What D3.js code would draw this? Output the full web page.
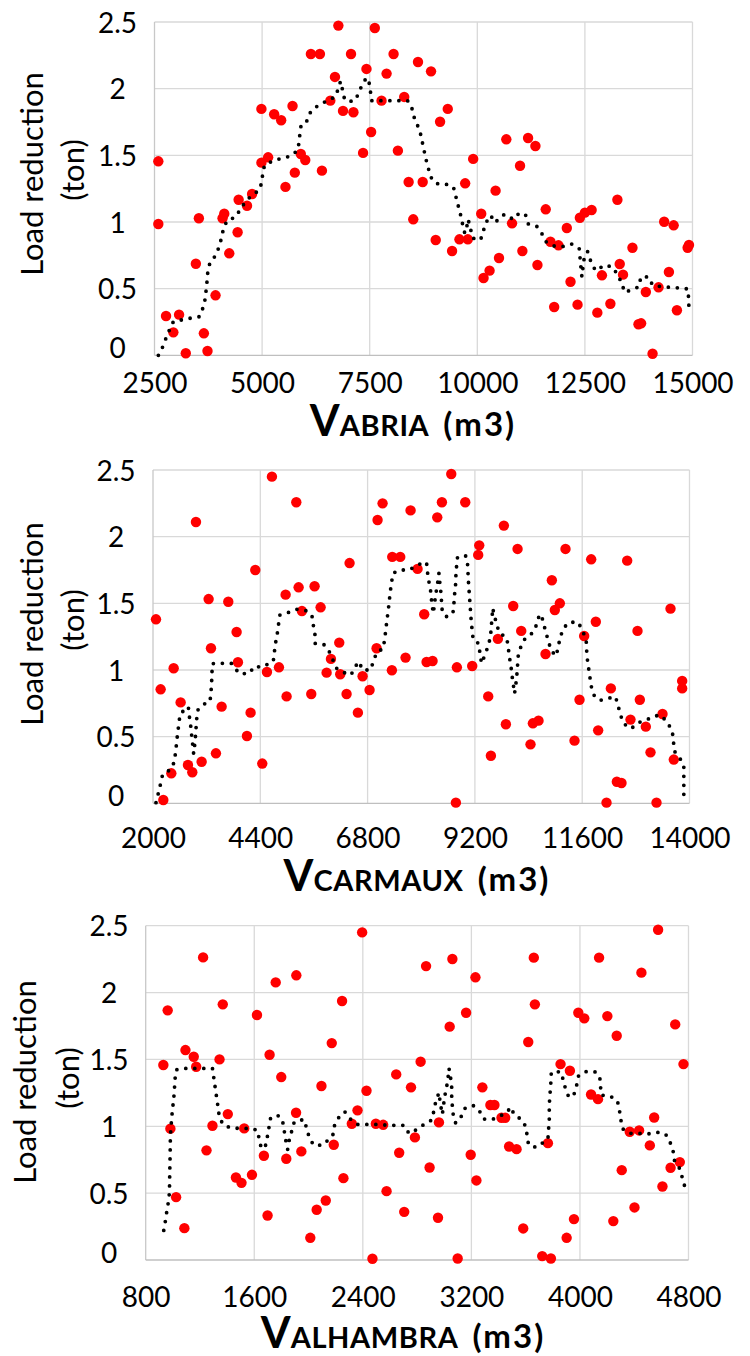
<!DOCTYPE html>
<html><head><meta charset="utf-8">
<script src="https://cdn.jsdelivr.net/npm/d3@7"></script>
<style>body{margin:0;background:#fff}svg{display:block}</style>
</head><body>
<svg id="chart" width="750" height="1356"></svg>
<script>
// ---------- DATA ----------
const yTicks = [0, 0.5, 1, 1.5, 2, 2.5];

// Panel 1 : V ABRIA
const abriaTicks = [2500, 5000, 7500, 10000, 12500, 15000];
const abriaX = [2589,2589,2768,2938,3071,3227,3531,3461,3647,3731,3918,4081,4121,4237,4431,4455,4650,4767,4984,4984,5140,5280,5443,5543,5707,5760,5900,6003,6134,6343,6390,6585,6693,6772,6880,7066,7122,7346,7425,7533,7619,7775,7892,8055,8155,8302,8405,8512,8622,8731,8925,9034,9135,9314,9414,9585,9718,9780,9904,10091,10145,10285,10425,10504,10674,10807,10993,11047,11180,11350,11397,11590,11700,11786,11886,12080,12166,12329,12383,12500,12656,12789,12896,13092,13255,13309,13386,13605,13745,13806,13916,14072,14211,14342,14452,14562,14638,14887,14918];
const abriaY = [1.455,0.985,0.295,0.172,0.305,0.015,1.028,0.687,0.165,0.032,0.45,1.028,1.062,0.765,0.923,1.167,1.122,1.21,1.848,1.445,1.485,1.808,1.763,1.263,1.87,1.37,1.51,1.465,2.26,2.26,1.385,1.91,2.088,2.473,1.833,2.26,1.823,1.518,2.148,1.675,2.455,1.91,2.113,2.26,1.535,1.938,1.3,1.02,2.2,1.3,2.13,0.865,1.752,1.848,0.782,0.87,1.29,0.87,1.473,1.062,0.58,0.635,1.235,0.73,1.62,0.99,1.422,0.782,1.63,1.57,0.677,1.095,0.852,0.362,0.825,0.955,0.552,0.38,1.032,1.07,1.09,0.32,0.6,0.387,1.167,0.685,0.605,0.807,0.233,0.24,0.475,0.012,0.51,1.002,0.625,0.975,0.338,0.807,0.827];
const abriaTrendX = [2590,2683,2760,2846,2939,3328,3546,3623,3678,3724,3740,3794,3934,4004,4066,4105,4199,4377,4486,4587,4727,4937,4999,5015,5061,5263,5465,5668,5831,5854,5878,5909,6049,6126,6266,6414,6577,6725,6779,6826,6872,6919,7113,7230,7308,7424,7486,7518,7541,7953,8380,8474,8520,8598,8668,8715,8761,8808,8862,8924,9041,9258,9445,9499,9554,9608,9655,9709,9748,9787,9841,9896,10075,10137,10191,10308,10417,10494,10634,10836,10984,11124,11186,11380,11505,11606,11785,11971,12189,12368,12406,12430,12476,12562,12647,12748,12966,13153,13262,13363,13417,13580,13759,13798,13977,14070,14272,14692,14894,14909,14917];
const abriaTrendY = [0.0,0.058,0.123,0.19,0.253,0.278,0.29,0.353,0.423,0.565,0.635,0.7,0.753,0.82,0.89,0.958,1.015,1.035,1.09,1.14,1.19,1.24,1.305,1.375,1.428,1.46,1.478,1.495,1.54,1.59,1.66,1.733,1.76,1.825,1.865,1.895,1.915,1.95,2.02,2.055,1.985,1.915,1.903,1.953,2.018,2.083,2.045,1.978,1.91,1.91,1.91,1.863,1.795,1.735,1.68,1.61,1.54,1.47,1.403,1.335,1.288,1.285,1.263,1.195,1.125,1.058,0.988,0.915,0.95,1.02,0.95,0.878,0.865,0.928,0.99,1.05,0.995,1.023,1.058,1.02,1.07,1.05,0.985,0.968,0.91,0.848,0.82,0.815,0.835,0.8,0.665,0.59,0.715,0.778,0.695,0.635,0.678,0.66,0.6,0.54,0.473,0.49,0.515,0.588,0.588,0.528,0.515,0.505,0.498,0.428,0.358];

// Panel 2 : V CARMAUX
const carmauxTicks = [2000, 4400, 6800, 9200, 11600, 14000];
const carmauxX = [2067,2171,2231,2410,2462,2618,2782,2879,2961,3088,3244,3297,3408,3535,3684,3870,3900,4101,4183,4288,4444,4549,4660,4817,4966,4988,5205,5257,5331,5540,5614,5749,5883,5980,6166,6188,6330,6397,6583,6688,6844,7001,7023,7135,7343,7351,7530,7649,7761,7917,8066,8119,8253,8358,8462,8671,8775,8797,8984,9140,9274,9297,9498,9558,9714,9848,9893,10057,10154,10236,10444,10497,10623,10780,10921,10988,11100,11227,11428,11540,11644,11801,11905,11957,12144,12241,12375,12479,12606,12680,12837,12889,13023,13128,13262,13396,13575,13649,13836,13836];
const carmauxY = [1.38,0.855,0.025,0.225,1.013,0.757,0.287,0.233,2.11,0.312,1.532,1.163,0.375,0.725,1.512,1.285,1.058,0.505,0.68,1.75,0.298,0.985,2.45,1.02,1.565,0.802,2.258,1.62,1.442,0.82,1.628,1.47,0.98,1.083,1.205,0.968,0.82,1.802,0.68,0.953,0.85,1.163,2.125,2.25,0.998,1.848,1.848,1.093,2.197,1.758,1.418,1.06,1.067,2.145,2.258,2.47,0.005,1.02,2.258,1.03,1.863,1.935,0.802,0.357,1.233,2.083,0.593,1.48,1.908,1.293,0.442,0.6,0.62,1.12,1.673,1.45,1.5,1.908,0.47,0.777,1.255,1.83,1.362,0.547,0.005,0.862,0.162,0.152,1.82,0.628,1.293,0.777,0.575,0.382,0.005,0.67,1.46,0.328,0.918,0.862];
const carmauxTrendX = [2067,2119,2171,2216,2402,2477,2506,2529,2551,2581,2603,2790,2812,2842,2864,2887,2909,2924,2946,2961,2976,2998,3125,3274,3297,3311,3319,3326,3535,3751,3930,4146,4280,4414,4690,4713,4742,4780,4809,4839,5018,5212,5421,5555,5585,5622,5629,5823,5935,6106,6255,6427,6524,6606,6688,6866,6933,7008,7150,7180,7209,7232,7261,7284,7306,7336,7366,7515,7724,7887,8051,8119,8141,8171,8209,8231,8268,8298,8320,8358,8395,8417,8440,8454,8469,8559,8708,8730,8745,8767,8775,8790,8812,8999,9036,9058,9073,9088,9103,9118,9140,9162,9289,9312,9349,9431,9498,9550,9565,9587,9595,9640,9684,9759,9908,9945,9967,10005,10027,10057,10087,10117,10139,10154,10169,10228,10325,10489,10571,10631,10683,10735,10787,10847,10906,11018,11063,11108,11175,11302,11510,11600,11689,11697,11711,11741,11771,11801,11861,11995,12173,12345,12405,12457,12539,12695,12852,13038,13210,13366,13530,13619,13642,13664,13783,13873,13873,13873,13873,13873];
const carmauxTrendY = [0.005,0.075,0.148,0.218,0.255,0.312,0.385,0.455,0.528,0.598,0.67,0.725,0.655,0.585,0.512,0.442,0.372,0.41,0.483,0.555,0.628,0.698,0.742,0.762,0.832,0.905,0.975,1.048,1.05,1.05,0.973,0.973,1.03,1.02,1.063,1.13,1.203,1.273,1.345,1.412,1.43,1.455,1.445,1.408,1.338,1.268,1.198,1.19,1.143,1.013,0.983,0.962,1.025,1.063,1.0,1.0,1.068,1.135,1.16,1.23,1.303,1.375,1.442,1.515,1.585,1.655,1.725,1.75,1.75,1.78,1.81,1.805,1.73,1.663,1.593,1.52,1.425,1.493,1.563,1.63,1.725,1.65,1.58,1.513,1.443,1.4,1.423,1.495,1.565,1.635,1.708,1.778,1.848,1.855,1.793,1.65,1.58,1.508,1.438,1.365,1.295,1.225,1.198,1.125,1.05,1.118,1.183,1.25,1.323,1.4,1.465,1.408,1.34,1.275,1.245,1.175,1.105,1.035,0.965,0.895,0.823,0.895,0.965,1.035,1.105,1.175,1.238,1.278,1.333,1.4,1.418,1.35,1.283,1.213,1.145,1.105,1.175,1.243,1.31,1.358,1.358,1.3,1.23,1.16,1.09,1.02,0.95,0.88,0.812,0.772,0.787,0.8,0.73,0.66,0.595,0.56,0.605,0.625,0.655,0.66,0.595,0.53,0.46,0.39,0.34,0.28,0.208,0.138,0.068,0.0];

// Panel 3 : V ALHAMBRA
const alhambraTicks = [800, 1600, 2400, 3200, 4000, 4800];
const alhambraX = [930,962,982,1024,1085,1093,1154,1172,1223,1248,1292,1344,1368,1405,1465,1506,1526,1583,1620,1671,1698,1713,1758,1799,1836,1908,1910,1947,2013,2060,2095,2127,2171,2186,2247,2257,2319,2361,2395,2427,2471,2496,2550,2575,2646,2668,2705,2755,2784,2826,2866,2892,2954,2961,3040,3060,3099,3161,3195,3230,3237,3281,3340,3370,3422,3449,3478,3533,3582,3619,3660,3668,3722,3764,3786,3857,3902,3926,3956,3988,4032,4082,4133,4141,4202,4246,4271,4308,4367,4402,4436,4453,4515,4547,4576,4608,4668,4702,4736,4763];
const alhambraY = [1.458,1.867,0.982,0.47,0.238,1.57,1.52,1.445,2.263,0.82,1.004,1.5,1.912,1.091,0.617,0.577,0.984,0.637,1.832,0.78,0.333,1.535,2.076,1.368,0.757,1.101,2.129,0.812,0.166,0.376,1.301,0.445,1.622,0.862,1.937,0.612,1.019,1.119,2.45,1.266,0.009,1.019,1.011,0.515,1.388,0.802,0.36,1.291,0.917,1.483,2.198,0.692,0.316,1.029,1.745,2.251,0.011,1.849,0.787,2.114,0.595,1.291,1.159,1.159,1.064,1.064,0.849,0.829,0.236,1.63,2.261,1.912,0.029,0.874,0.011,1.465,0.166,1.415,0.306,1.849,1.807,1.238,1.203,2.261,1.824,0.291,1.677,0.672,0.959,0.393,0.969,2.149,0.857,1.066,2.47,0.55,0.69,1.762,0.732,1.465];
const alhambraTrendX = [933,945,955,967,975,977,980,982,987,992,999,1007,1012,1016,1026,1085,1226,1292,1302,1312,1322,1332,1341,1368,1423,1492,1560,1622,1637,1652,1681,1696,1708,1720,1770,1807,1819,1829,1846,1858,1876,1895,1967,1986,2006,2038,2107,2179,2191,2223,2267,2309,2361,2427,2494,2570,2634,2705,2740,2814,2858,2907,2924,2937,2961,2971,2986,3003,3018,3028,3035,3047,3055,3055,3060,3067,3084,3124,3153,3212,3257,3291,3355,3424,3464,3488,3518,3569,3599,3611,3621,3678,3764,3769,3774,3774,3776,3781,3786,3789,3857,3877,3894,3919,3956,3976,3990,4040,4109,4146,4151,4158,4222,4276,4291,4301,4315,4365,4434,4507,4574,4631,4665,4687,4697,4734,4754,4773];
const alhambraTrendY = [0.221,0.291,0.36,0.433,0.503,0.645,0.784,0.927,0.999,1.069,1.139,1.211,1.281,1.353,1.423,1.433,1.433,1.433,1.361,1.291,1.221,1.151,1.081,1.014,0.989,0.984,0.984,0.972,0.904,0.834,0.847,0.919,0.989,1.059,1.084,1.049,0.98,0.91,0.827,0.897,0.964,1.034,1.051,0.985,0.914,0.859,0.859,0.934,1.004,1.066,1.109,1.054,1.014,1.014,1.014,1.009,1.007,1.007,0.947,0.984,1.021,1.046,1.116,1.183,1.251,1.171,1.089,1.221,1.296,1.363,1.433,1.363,1.291,1.221,1.146,1.079,1.024,1.071,1.134,1.156,1.119,1.054,1.051,1.084,1.104,1.144,1.084,1.051,1.001,0.932,0.862,0.842,0.904,0.979,1.049,1.121,1.191,1.263,1.333,1.405,1.408,1.348,1.278,1.216,1.238,1.308,1.378,1.408,1.408,1.373,1.303,1.233,1.226,1.191,1.121,1.051,0.981,0.947,0.947,0.944,0.954,0.942,0.879,0.812,0.742,0.685,0.617,0.547];

// ---------- LAYOUT ----------
const svg = d3.select("#chart");
const FONT = "Lato, 'Open Sans', 'DejaVu Sans', sans-serif";

const panels = [
  {sub:"ABRIA", xs:abriaX, ys:abriaY, tx:abriaTrendX, ty:abriaTrendY, ticks:abriaTicks,
   left:154.5, right:692.5, top:22, bottom:355.3, xLabBase:393, titleX:413, titleBase:436,
   yLabX:117.5, ytX1:43, ytY1:174, ytX2:84, ytY2:170},
  {sub:"CARMAUX", xs:carmauxX, ys:carmauxY, tx:carmauxTrendX, ty:carmauxTrendY, ticks:carmauxTicks,
   left:153, right:689.5, top:470, bottom:803.3, xLabBase:848, titleX:417, titleBase:891,
   yLabX:116, ytX1:43, ytY1:624, ytX2:84, ytY2:620},
  {sub:"ALHAMBRA", xs:alhambraX, ys:alhambraY, tx:alhambraTrendX, ty:alhambraTrendY, ticks:alhambraTicks,
   left:145.7, right:688.5, top:925.7, bottom:1260, xLabBase:1307, titleX:403, titleBase:1348,
   yLabX:109, ytX1:36, ytY1:1082, ytX2:79, ytY2:1078}
];

panels.forEach(p => {
  const x = d3.scaleLinear().domain([p.ticks[0], p.ticks[p.ticks.length-1]]).range([p.left, p.right]);
  const y = d3.scaleLinear().domain([0, 2.5]).range([p.bottom, p.top]);
  const g = svg.append("g");

  // gridlines
  g.append("g").selectAll("line").data(p.ticks.slice(1)).join("line")
    .attr("x1", d => x(d)).attr("x2", d => x(d)).attr("y1", p.top).attr("y2", p.bottom)
    .attr("stroke", "#d9d9d9").attr("stroke-width", 1.3);
  g.append("g").selectAll("line").data(yTicks.slice(1)).join("line")
    .attr("x1", p.left).attr("x2", p.right).attr("y1", d => y(d)).attr("y2", d => y(d))
    .attr("stroke", "#d9d9d9").attr("stroke-width", 1.3);

  // axes lines
  g.append("line").attr("x1", p.left).attr("x2", p.left).attr("y1", p.top).attr("y2", p.bottom)
    .attr("stroke", "#c8c8c8").attr("stroke-width", 1.3);
  g.append("line").attr("x1", p.left).attr("x2", p.right).attr("y1", p.bottom).attr("y2", p.bottom)
    .attr("stroke", "#bfbfbf").attr("stroke-width", 1.3);

  // x axis labels
  const xa = g.append("g").attr("transform", `translate(0,${p.bottom})`)
    .call(d3.axisBottom(x).tickValues(p.ticks).tickSize(0).tickFormat(d3.format("d")));
  xa.select(".domain").remove();
  xa.selectAll("text").attr("y", p.xLabBase - p.bottom).attr("dy", 0)
    .attr("font-family", FONT).attr("font-size", 28).attr("fill", "#000");

  // y axis labels
  const ya = g.append("g").attr("transform", `translate(${p.left},0)`)
    .call(d3.axisLeft(y).tickValues(yTicks).tickSize(0).tickFormat(d => d3.format("")(d)));
  ya.select(".domain").remove();
  ya.selectAll("text").attr("x", p.yLabX - p.left).attr("text-anchor", "middle")
    .attr("dy", d => d === 0 ? "0.08em" : "0.36em")
    .attr("font-family", FONT).attr("font-size", 28).attr("fill", "#000");

  // points
  g.append("g").selectAll("circle").data(p.xs.map((v, i) => [v, p.ys[i]])).join("circle")
    .attr("cx", d => x(d[0])).attr("cy", d => y(d[1])).attr("r", 5.2).attr("fill", "#ff0000");

  // moving-average trend (dotted)
  const line = d3.line().x(d => x(d[0])).y(d => y(d[1]));
  g.append("path").datum(p.tx.map((v, i) => [v, p.ty[i]]))
    .attr("d", line).attr("fill", "none").attr("stroke", "#000")
    .attr("stroke-width", 3.8).attr("stroke-linecap", "round").attr("stroke-dasharray", "0 9");

  // y title
  g.append("text").attr("transform", `translate(${p.ytX1},${p.ytY1}) rotate(-90)`)
    .attr("text-anchor", "middle").attr("font-family", FONT).attr("font-size", 31).attr("fill", "#000")
    .text("Load reduction");
  g.append("text").attr("transform", `translate(${p.ytX2},${p.ytY2}) rotate(-90)`)
    .attr("text-anchor", "middle").attr("font-family", FONT).attr("font-size", 31).attr("fill", "#000")
    .text("(ton)");

  // x title
  const t = g.append("text").attr("x", p.titleX).attr("y", p.titleBase).attr("text-anchor", "middle")
    .attr("font-family", FONT).attr("font-weight", "bold").attr("fill", "#000");
  t.append("tspan").attr("font-size", 43).text("V");
  t.append("tspan").attr("font-size", 29).attr("letter-spacing", 0.6).text(p.sub);
  t.append("tspan").attr("font-size", 33).attr("dx", 14).attr("letter-spacing", 2).text("(m3)");
});
</script>
</body></html>
